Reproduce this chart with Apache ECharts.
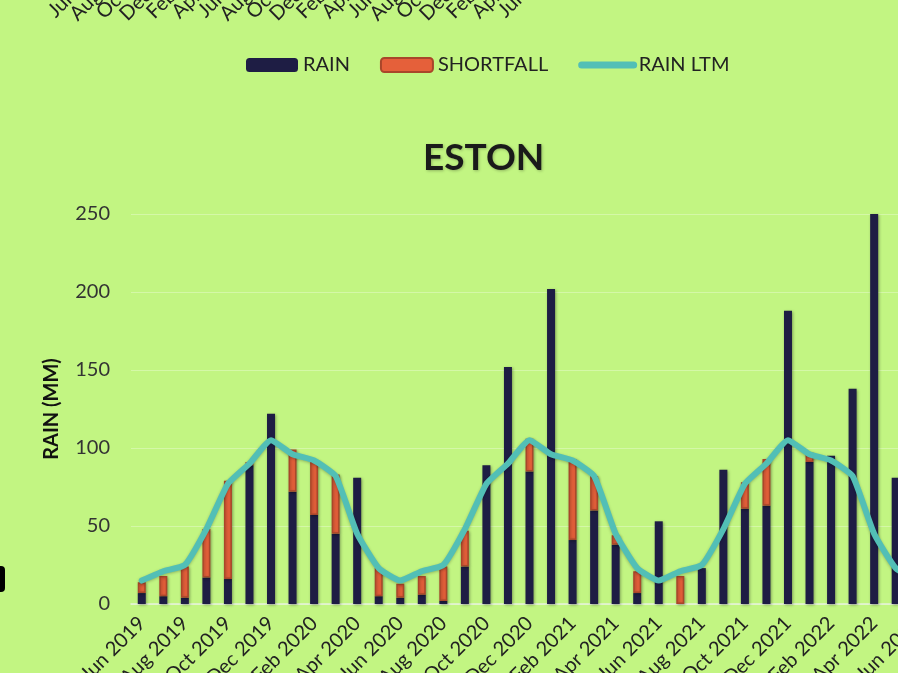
<!DOCTYPE html>
<html>
<head>
<meta charset="utf-8">
<title>ESTON</title>
<script src="https://cdn.jsdelivr.net/npm/echarts@6/dist/echarts.min.js"></script>
<style>
  html, body { margin: 0; padding: 0; background: #c2f582; }
  #main { width: 898px; height: 673px; }
</style>
</head>
<body>
<div id="main"></div>
<script>
// month labels (Jun 2019 .. Jun 2022)
var months = [
  'Jun 2019', 'Jul 2019', 'Aug 2019', 'Sep 2019', 'Oct 2019', 'Nov 2019', 'Dec 2019',
  'Jan 2020', 'Feb 2020', 'Mar 2020', 'Apr 2020', 'May 2020', 'Jun 2020', 'Jul 2020',
  'Aug 2020', 'Sep 2020', 'Oct 2020', 'Nov 2020', 'Dec 2020', 'Jan 2021', 'Feb 2021',
  'Mar 2021', 'Apr 2021', 'May 2021', 'Jun 2021', 'Jul 2021', 'Aug 2021', 'Sep 2021',
  'Oct 2021', 'Nov 2021', 'Dec 2021', 'Jan 2022', 'Feb 2022', 'Mar 2022', 'Apr 2022',
  'May 2022', 'Jun 2022'
];

// rain (mm)
var rain = [7, 5, 4, 17, 16, 89, 122, 72, 57, 45, 81, 5, 4, 6, 2, 24, 89, 152, 85, 202,
  41, 60, 38, 7, 53, 0, 23, 86, 61, 63, 188, 91, 95, 138, 250, 81, null];

// shortfall against long term mean (mm)
var shortfall = [7, 13, 20, 31, 63, 2, 0, 27, 35, 38, 0, 18, 9, 12, 22, 23, 0, 0, 21, 0,
  52, 22, 6, 14, 0, 18, 0, 0, 17, 30, 0, 6, 0, 0, 0, 0, null];

// long term mean
var rainLtm = [15, 21, 25, 48, 77, 90, 105, 96, 92, 82, 45, 23,
  15, 21, 25, 48, 77, 90, 105, 96, 92, 82, 45, 23,
  15, 21, 25, 48, 77, 90, 105, 96, 92, 82, 45, 23, 15];

var yTicks = [0, 50, 100, 150, 200, 250];

// the chart above is cropped, only the start of its date labels shows.
// blank slots at both ends so echarts keeps the first/last real label
var topLabels = ['', ''].concat(months, ['', '']);

var fontFam = 'Lato, "Open Sans", sans-serif';

var myChart = echarts.init(document.getElementById('main'));

var option = {
  backgroundColor: '#c2f582',
  animation: false,
  title: {
    text: 'ESTON',
    left: 418,
    top: 135,
    textStyle: {
      fontFamily: fontFam,
      fontSize: 37,
      fontWeight: 'bold',
      color: '#1a1a1a',
      textShadowColor: 'rgba(0,0,0,0.25)',
      textShadowBlur: 3,
      textShadowOffsetX: 1,
      textShadowOffsetY: 1
    }
  },
  legend: {
    left: 241,
    top: 50,
    itemWidth: 52,
    itemHeight: 14,
    itemGap: 30,
    textStyle: { fontFamily: fontFam, fontSize: 20, color: '#222' },
    data: [
      'RAIN',
      'SHORTFALL',
      {
        name: 'RAIN LTM',
        itemStyle: { color: 'rgba(0,0,0,0)', borderColor: 'rgba(0,0,0,0)', borderWidth: 0 },
        lineStyle: { width: 7, cap: 'round' }
      }
    ]
  },
  graphic: [
    // black fragment on the left edge
    { type: 'rect', left: -6, top: 566, shape: { width: 11, height: 26, r: 4 }, style: { fill: '#000' } }
  ],
  grid: [
    { left: 131, right: -30, top: 214, bottom: 69, outerBoundsMode: 'none' },
    // axis labels of the chart above (cropped)
    { left: 78, width: 512.5, top: -304, height: 252, outerBoundsMode: 'none' }
  ],
  xAxis: [
    {
      type: 'category',
      data: months,
      gridIndex: 0,
      axisLine: { lineStyle: { color: '#e6f2dc', width: 1.5 } },
      axisTick: { show: false },
      axisLabel: {
        interval: 1,
        rotate: 45,
        margin: 16,
        showMinLabel: true,
        fontFamily: fontFam,
        fontSize: 20,
        color: '#222'
      }
    },
    {
      type: 'category',
      data: topLabels,
      gridIndex: 1,
      axisLine: { show: false },
      axisTick: { show: false },
      axisLabel: {
        interval: 1,
        rotate: 45,
        margin: 8,
        showMinLabel: false,
        showMaxLabel: false,
        hideOverlap: false,
        fontFamily: fontFam,
        fontSize: 20,
        lineHeight: 12,
        color: '#222'
      }
    }
  ],
  yAxis: [
    {
      type: 'value',
      gridIndex: 0,
      min: yTicks[0],
      max: yTicks[yTicks.length - 1],
      interval: 50,
      name: 'RAIN (MM)',
      nameLocation: 'middle',
      nameRotate: 90,
      nameGap: 69,
      nameTextStyle: { fontFamily: fontFam, fontSize: 20, fontWeight: 'bold', color: '#111' },
      axisLine: { show: false },
      axisTick: { show: false },
      axisLabel: { margin: 21, fontFamily: fontFam, fontSize: 20, color: '#333' },
      splitLine: { lineStyle: { color: 'rgba(255,255,255,0.3)', width: 1 } }
    },
    {
      type: 'value',
      gridIndex: 1,
      show: false
    }
  ],
  series: [
    {
      name: 'RAIN',
      type: 'bar',
      stack: 'rain',
      barWidth: 8,
      data: rain,
      itemStyle: {
        color: '#1e1d44',
        shadowColor: 'rgba(0,0,0,0.35)',
        shadowBlur: 3,
        shadowOffsetX: 1,
        shadowOffsetY: 1
      }
    },
    {
      name: 'SHORTFALL',
      type: 'bar',
      stack: 'rain',
      data: shortfall.map(function (v) { return v ? v : '-'; }),
      itemStyle: {
        color: '#e5603a',
        borderColor: '#a9462a',
        borderWidth: 1.5,
        shadowColor: 'rgba(0,0,0,0.3)',
        shadowBlur: 3,
        shadowOffsetX: 1,
        shadowOffsetY: 1
      }
    },
    {
      name: 'RAIN LTM',
      type: 'line',
      data: rainLtm,
      symbol: 'none',
      smooth: 0.15,
      itemStyle: { color: '#52bfb6' },
      lineStyle: {
        color: '#52bfb6',
        width: 6,
        cap: 'round',
        join: 'round',
        shadowColor: 'rgba(0,0,0,0.25)',
        shadowBlur: 3,
        shadowOffsetY: 1
      },
      z: 3
    }
  ]
};

myChart.setOption(option);
</script>
</body>
</html>
